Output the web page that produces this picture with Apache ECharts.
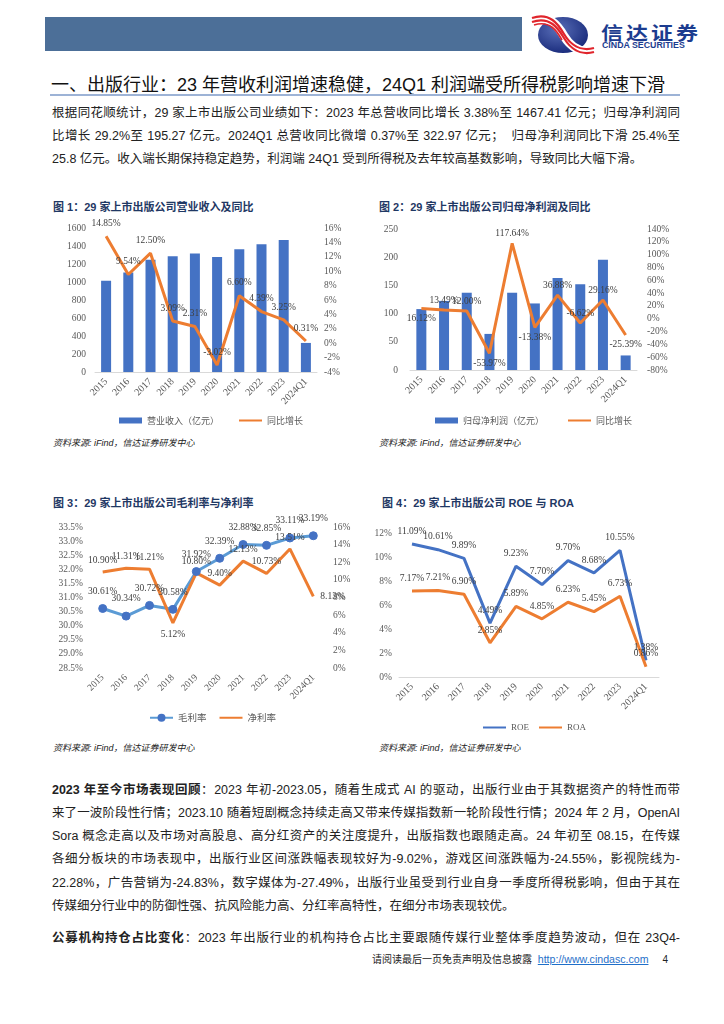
<!DOCTYPE html>
<html><head><meta charset="utf-8">
<script src="https://cdn.jsdelivr.net/npm/echarts@6/dist/echarts.min.js"></script>
<style>
html,body{margin:0;padding:0;background:#fff;}
body{width:724px;height:1024px;position:relative;overflow:hidden;font-family:"Liberation Sans","Noto Sans CJK SC",sans-serif;color:#222;}
.a{position:absolute;}
.jl{position:absolute;left:52px;width:628px;font-size:12.5px;line-height:16px;text-align:justify;text-align-last:justify;white-space:normal;}
.ll{text-align-last:left;}
.ct{position:absolute;font-size:11px;font-weight:bold;color:#1F3864;white-space:nowrap;}
.src{position:absolute;font-size:9px;font-style:italic;color:#222;white-space:nowrap;}
#chart{position:absolute;left:0;top:0;width:724px;height:1024px;z-index:2;}
</style></head>
<body>
<div class="a" style="left:45px;top:17px;width:477px;height:34px;background:#4C6F98;"></div>
<svg class="a" style="left:530px;top:12px" width="66" height="46" viewBox="0 0 66 46">
  <defs><radialGradient id="g" cx="0.4" cy="0.35" r="0.7"><stop offset="0" stop-color="#5a6fb8"/><stop offset="1" stop-color="#17297a"/></radialGradient></defs>
  <ellipse cx="33" cy="23" rx="25" ry="18" fill="url(#g)"/>
  <path d="M2 8 C20 2,28 14,34 24 C40 34,50 42,64 38" stroke="#fff" stroke-width="9" fill="none"/>
  <path d="M2 6 C20 0,28 12,34 22 C40 32,50 40,64 36" stroke="#e0252c" stroke-width="2.2" fill="none"/>
  <path d="M2 10 C20 4,28 16,34 26 C40 36,50 44,64 40" stroke="#e0252c" stroke-width="2.2" fill="none"/>
  <path d="M4 13 C20 8,27 19,32 28" stroke="#e0252c" stroke-width="1.6" fill="none"/>
</svg>
<div class="a" style="left:601px;top:18px;font-size:22px;font-weight:bold;color:#1C3C8F;letter-spacing:3px;white-space:nowrap;font-family:'Noto Sans CJK SC';transform:scaleY(0.85);transform-origin:0 0;">信达证券</div>
<div class="a" style="left:602px;top:40px;font-size:8.8px;font-weight:bold;color:#1C3C8F;white-space:nowrap;">CINDA SECURITIES</div>

<div class="a" style="left:51px;top:70px;font-size:18px;white-space:nowrap;font-family:'Liberation Sans','Noto Sans CJK SC';color:#111;">一、出版行业：23 年营收利润增速稳健，24Q1 利润端受所得税影响增速下滑</div>
<div class="a" style="left:50px;top:94px;width:630px;height:1.5px;background:#9DB3D6;"></div>

<div class="jl" style="top:105px;"><span>根据同花顺统计，29 家上市出版公司业绩如下：2023 年总营收同比增长 3.38%至 1467.41 亿元；归母净利润同</span></div>
<div class="jl" style="top:128px;"><span>比增长 29.2%至 195.27 亿元。2024Q1 总营收同比微增 0.37%至 322.97 亿元；&nbsp; 归母净利润同比下滑 25.4%至</span></div>
<div class="jl ll" style="top:151px;"><span>25.8 亿元。收入端长期保持稳定趋势，利润端 24Q1 受到所得税及去年较高基数影响，导致同比大幅下滑。</span></div>

<div class="ct" style="left:53px;top:198px;">图 1：29 家上市出版公司营业收入及同比</div>
<div class="ct" style="left:379px;top:198px;">图 2：29 家上市出版公司归母净利润及同比</div>
<div class="src" style="left:53px;top:436px;">资料来源: iFind，信达证券研发中心</div>
<div class="src" style="left:379px;top:436px;">资料来源: iFind，信达证券研发中心</div>

<div class="ct" style="left:53px;top:494px;">图 3：29 家上市出版公司毛利率与净利率</div>
<div class="ct" style="left:382px;top:494px;">图 4：29 家上市出版公司 ROE 与 ROA</div>
<div class="src" style="left:53px;top:741px;">资料来源: iFind，信达证券研发中心</div>
<div class="src" style="left:379px;top:741px;">资料来源: iFind，信达证券研发中心</div>

<div class="jl" style="top:782px;"><span><b>2023 年至今市场表现回顾</b>：2023 年初-2023.05，随着生成式 AI 的驱动，出版行业由于其数据资产的特性而带</span></div>
<div class="jl" style="top:805px;"><span>来了一波阶段性行情；2023.10 随着短剧概念持续走高又带来传媒指数新一轮阶段性行情；2024 年 2 月，OpenAI</span></div>
<div class="jl" style="top:828px;"><span>Sora 概念走高以及市场对高股息、高分红资产的关注度提升，出版指数也跟随走高。24 年初至 08.15，在传媒</span></div>
<div class="jl" style="top:851px;"><span>各细分板块的市场表现中，出版行业区间涨跌幅表现较好为-9.02%，游戏区间涨跌幅为-24.55%，影视院线为-</span></div>
<div class="jl" style="top:875px;"><span>22.28%，广告营销为-24.83%，数字媒体为-27.49%，出版行业虽受到行业自身一季度所得税影响，但由于其在</span></div>
<div class="jl ll" style="top:898px;"><span>传媒细分行业中的防御性强、抗风险能力高、分红率高特性，在细分市场表现较优。</span></div>
<div class="jl" style="top:930px;"><span><b>公募机构持仓占比变化</b>：2023 年出版行业的机构持仓占比主要跟随传媒行业整体季度趋势波动，但在 23Q4-</span></div>

<div class="a" style="left:372px;top:951px;font-size:10px;white-space:nowrap;color:#222;">请阅读最后一页免责声明及信息披露 <span style="color:#1F6FC9;text-decoration:underline;margin-left:3px;font-size:10.6px;">http://www.cindasc.com</span><span style="margin-left:14px;">4</span></div>

<div id="chart"></div>
<script>
// ---- data ----
const years = ['2015','2016','2017','2018','2019','2020','2021','2022','2023','2024Q1'];
const revenue = [1014, 1106, 1246, 1287, 1316, 1279, 1364, 1419, 1467.41, 322.97];
const revenueYoY = [14.85, 9.54, 12.50, 3.09, 2.31, -3.02, 6.60, 4.39, 3.25, 0.31];
const netProfit = [108, 122.5, 137, 64, 137, 118, 163, 152, 195.27, 25.8];
const netProfitYoY = [16.12, 13.49, 12.00, -53.97, 117.64, -13.38, 36.88, -6.62, 29.16, -25.39];
const grossMargin = [30.61, 30.34, 30.72, 30.58, 31.92, 32.39, 32.88, 32.85, 33.11, 33.19];
const netMargin = [10.90, 11.31, 11.21, 5.12, 10.80, 9.40, 12.13, 10.73, 13.51, 8.13];
const roe = [11.09, 10.61, 9.89, 4.49, 9.23, 7.70, 9.70, 8.68, 10.55, 1.38];
const roa = [7.17, 7.21, 6.90, 2.85, 5.89, 4.85, 6.23, 5.45, 6.73, 0.86];
const revTicks = {min: 0, max: 1600, interval: 200};
const revYoYTicks = {min: -4, max: 16, interval: 2};
const npTicks = {min: 0, max: 250, interval: 50};
const npYoYTicks = {min: -80, max: 140, interval: 20};
const gmTicks = {min: 28.5, max: 33.5, interval: 0.5};
const nmTicks = {min: 0, max: 16, interval: 2};
const roeTicks = {min: 0, max: 12, interval: 2};

// ---- style ----
const BLUE = '#4472C4', ORANGE = '#ED7D31', LBLUE = '#5B9BD5';
const SERIF = '"Liberation Serif","Noto Sans CJK SC",serif';
const CJK = '"Noto Sans CJK SC",sans-serif';
const npLabelPos = ['bottom','top','top','bottom','top','bottom','top','top','top','bottom'];
const nmLabelPos = ['top','top','top','bottom','top','top','top','top','top','right'];

function pct2(v){ return v.toFixed(2) + '%'; }
function lblData(arr, pos, dist){
  return arr.map((v,i)=>({value:v, label:{position: pos ? pos[i] : 'top', distance: dist}}));
}
const axisLbl = {fontSize: 9.5, color: '#595959', fontFamily: SERIF};
function xCat(gi, showLine, fs){
  return {type:'category', gridIndex: gi, data: years,
    axisLine:{show: showLine, lineStyle:{color:'#D9D9D9', width:1}},
    axisTick:{show:false},
    axisLabel:Object.assign({}, axisLbl, {rotate:45, margin:8, interval:0, fontSize: fs})};
}
function yVal(gi, ticks, pos, fmt, margin){
  return Object.assign({type:'value', gridIndex: gi, position: pos,
    splitLine:{show:false}, axisLine:{show:false}, axisTick:{show:false},
    axisLabel:Object.assign({margin: margin, formatter: fmt}, axisLbl)}, ticks);
}
const num = v => String(v);
const pct = v => v + '%';
const dataLabel = {show:true, fontSize:9.5, color:'#404040', fontFamily: SERIF, formatter: p => pct2(p.value)};
// plain line (no visible markers) – keep a zero-size symbol so labels still render
function plainLine(name, xi, yi, arr, pos, dist, color){
  return {name, type:'line', xAxisIndex:xi, yAxisIndex:yi, data: lblData(arr, pos, dist),
    symbol:'circle', symbolSize:0, lineStyle:{color, width:3}, itemStyle:{color}, label: dataLabel};
}
const legendText = {fontSize:9, color:'#595959', fontFamily:CJK};
const hideSym = {opacity:0};

const option = {
  animation: false,
  grid: [
    {left:95, top:228, width:222, height:144},
    {left:410, top:229, width:227, height:141},
    {left:91, top:527, width:234, height:141},
    {left:399, top:533, width:260, height:144}
  ],
  xAxis: [xCat(0,true,10), xCat(1,true,10), xCat(2,false,9.5), xCat(3,true,10)],
  yAxis: [
    yVal(0, revTicks, 'left', num, 9),
    yVal(0, revYoYTicks, 'right', pct, 7),
    yVal(1, npTicks, 'left', num, 12),
    yVal(1, npYoYTicks, 'right', pct, 10),
    yVal(2, gmTicks, 'left', v => v.toFixed(1) + '%', 8),
    yVal(2, nmTicks, 'right', pct, 8),
    yVal(3, roeTicks, 'left', pct, 7)
  ],
  legend: [
    {left:114, top:411, itemWidth:23, itemHeight:6, itemGap:19, textStyle:legendText,
      data:[{name:'营业收入（亿元）', icon:'rect'}, {name:'同比增长', itemStyle:hideSym}]},
    {left:430, top:411, itemWidth:23, itemHeight:6, itemGap:23, textStyle:legendText,
      data:[{name:'归母净利润（亿元）', icon:'rect'}, {name:'同比增长', itemStyle:hideSym}]},
    {left:144, top:708, itemWidth:23, itemHeight:10, itemGap:12, textStyle:{fontSize:9.5, color:'#595959', fontFamily:CJK},
      data:['毛利率', {name:'净利率', itemStyle:hideSym}]},
    {left:477, top:718, itemWidth:23, itemHeight:6, itemGap:9, textStyle:{fontSize:9, color:'#595959', fontFamily:SERIF},
      data:[{name:'ROE', itemStyle:hideSym}, {name:'ROA', itemStyle:hideSym}]}
  ],
  series: [
    {name:'营业收入（亿元）', type:'bar', xAxisIndex:0, yAxisIndex:0, data: revenue, barWidth:10, itemStyle:{color:BLUE}},
    plainLine('同比增长', 0, 1, revenueYoY, null, 8, ORANGE),
    {name:'归母净利润（亿元）', type:'bar', xAxisIndex:1, yAxisIndex:2, data: netProfit, barWidth:10, itemStyle:{color:BLUE}},
    plainLine('同比增长', 1, 3, netProfitYoY, npLabelPos, 5, ORANGE),
    {name:'毛利率', type:'line', xAxisIndex:2, yAxisIndex:4, data: lblData(grossMargin, null, 8), symbol:'circle', symbolSize:8,
      lineStyle:{color:LBLUE, width:3}, itemStyle:{color:BLUE, borderColor:BLUE}, label: dataLabel},
    plainLine('净利率', 2, 5, netMargin, nmLabelPos, 7, ORANGE),
    plainLine('ROE', 3, 6, roe, null, 8, BLUE),
    plainLine('ROA', 3, 6, roa, null, 8, ORANGE)
  ]
};
const chart = echarts.init(document.getElementById('chart'), null, {renderer:'canvas'});
chart.setOption(option);

// fit justified text lines so each stays on one line
document.querySelectorAll('.jl').forEach(el => {
  const span = el.firstElementChild;
  span.style.whiteSpace = 'nowrap';
  let fs = parseFloat(getComputedStyle(el).fontSize);
  let w = span.getBoundingClientRect().width;
  if (w > 627) { el.style.fontSize = (fs * 627 / w) + 'px'; }
  span.style.whiteSpace = 'normal';
});
</script>
</body></html>
